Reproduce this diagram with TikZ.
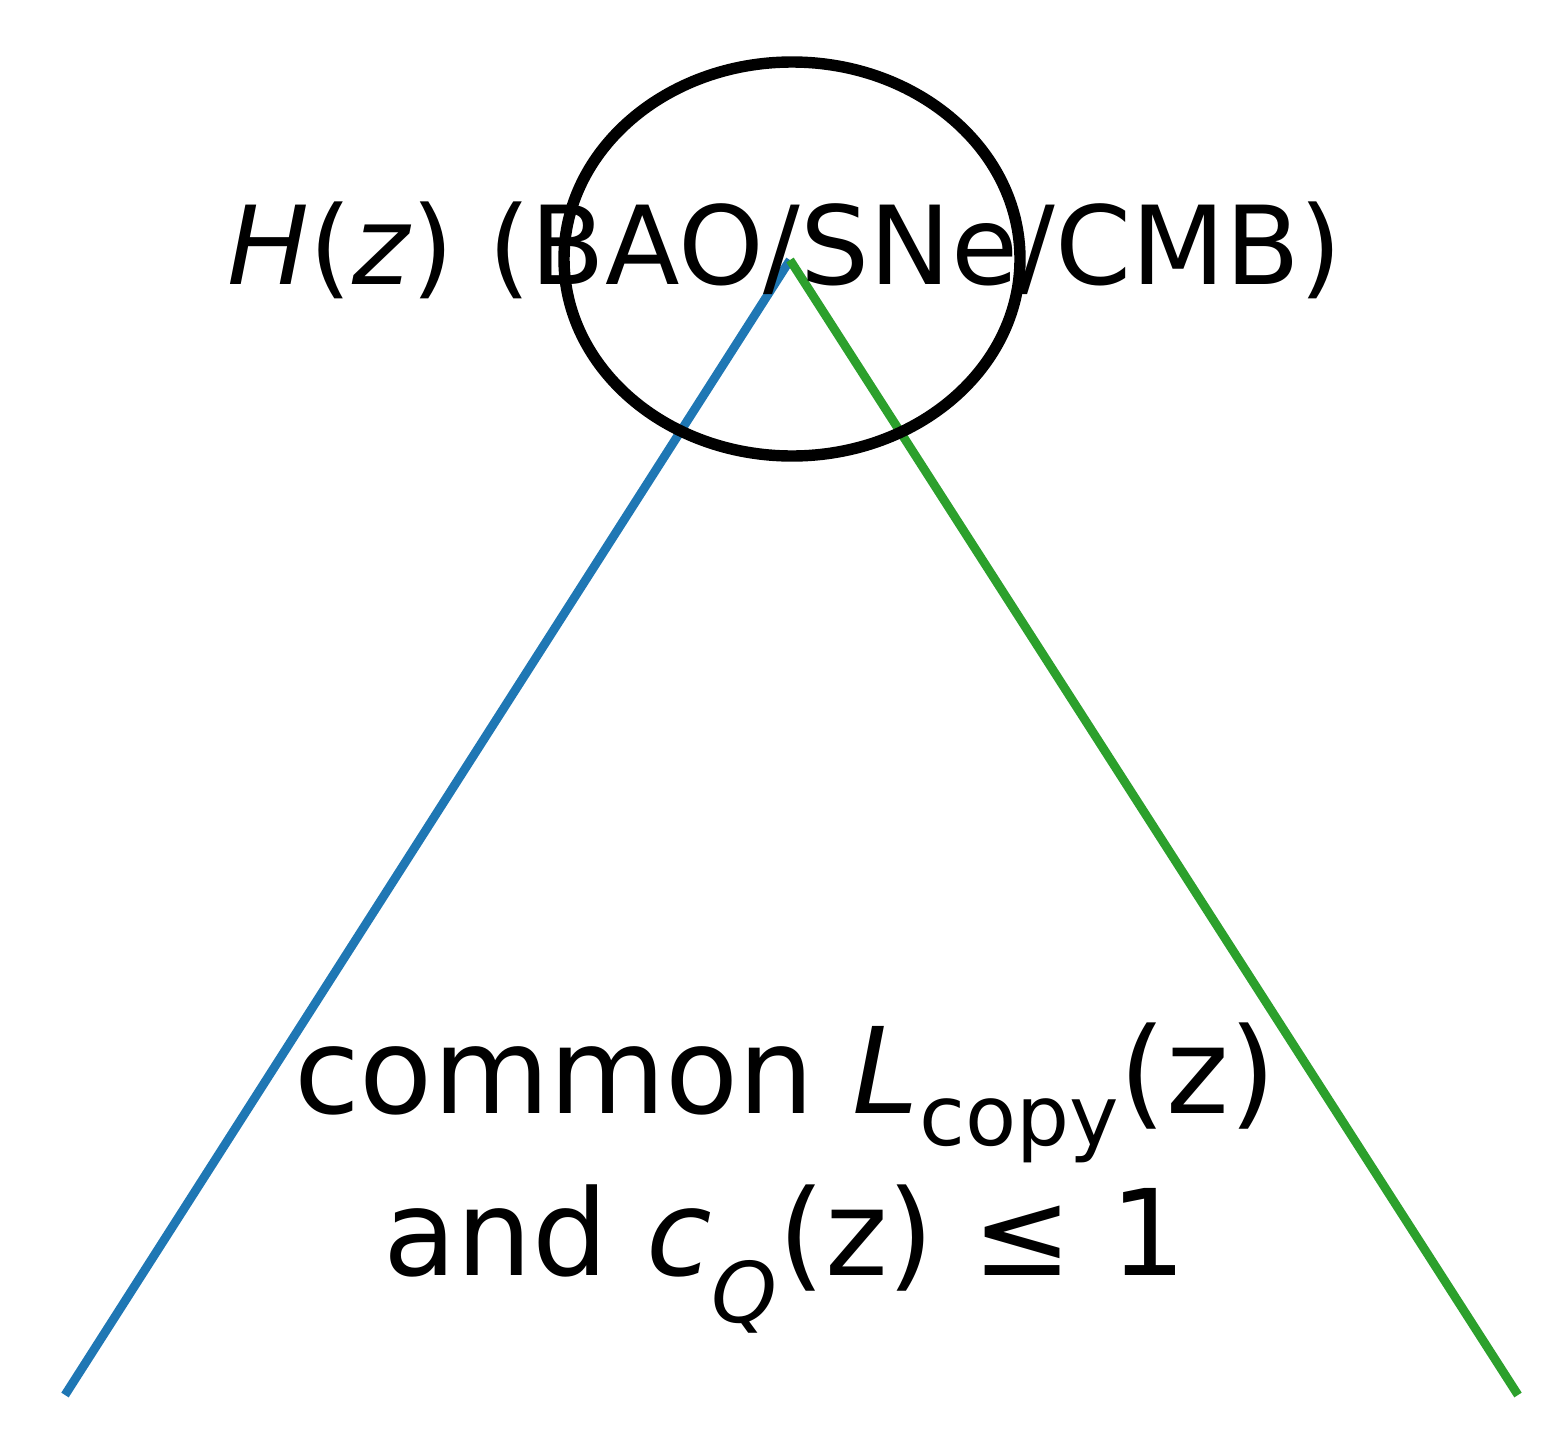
\documentclass[tikz,border=0pt]{standalone}
\usepackage{fontspec}
\setmainfont{DejaVu Sans}
\definecolor{mblue}{HTML}{1F77B4}
\definecolor{mgreen}{HTML}{2CA02C}
\begin{document}
\begin{tikzpicture}[x=0.02cm,y=-0.02cm,
  lbl/.style={inner sep=0pt,align=center}]
\useasboundingbox (0,0) rectangle (1554,1440);
\coordinate (top) at (790,260);
\coordinate (bl) at (65,1395);
\coordinate (br) at (1518,1395);
\draw[mblue,line width=5pt] (top) -- (bl);
\draw[mgreen,line width=5pt] (top) -- (br);
\node[lbl,font=\fontsize{62}{70}\selectfont] (h) at (785,250) {\textit{H}(\textit{z}) (BAO/SNe/CMB)};
\draw[line width=6.5pt] (792,259) ellipse [x radius=228, y radius=197];
\node[lbl,font=\fontsize{68}{92}\selectfont] (c) at (785,1178) {common \textit{L}\textsubscript{copy}(z)\\and \textit{c}\textsubscript{\textit{Q}}(z) ≤ 1};
\end{tikzpicture}
\end{document}
